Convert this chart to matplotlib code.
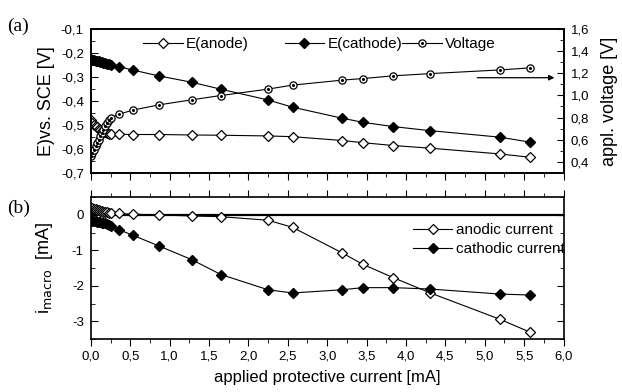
import matplotlib
matplotlib.use('Agg')
import matplotlib.pyplot as plt
from matplotlib.ticker import FuncFormatter, MultipleLocator
from matplotlib.legend_handler import HandlerTuple

plt.rcParams['font.family'] = ['Liberation Sans', 'DejaVu Sans']

# applied protective current [mA]
current = [0.0, 0.02, 0.04, 0.06, 0.08, 0.10, 0.12, 0.14, 0.16, 0.18, 0.20, 0.23, 0.26,
           0.36, 0.53, 0.87, 1.28, 1.65, 2.25, 2.56, 3.19, 3.45, 3.84, 4.31, 5.19, 5.58]

e_anode = [-0.48, -0.49, -0.50, -0.505, -0.51, -0.515, -0.52, -0.525, -0.528, -0.531, -0.534, -0.537, -0.538,
           -0.539, -0.540, -0.540, -0.542, -0.543, -0.546, -0.549, -0.565, -0.574, -0.586, -0.597, -0.621, -0.635]
e_cathode = [-0.225, -0.228, -0.230, -0.232, -0.233, -0.235, -0.237, -0.239, -0.241, -0.243, -0.245, -0.248, -0.252,
             -0.257, -0.271, -0.296, -0.322, -0.351, -0.396, -0.426, -0.472, -0.489, -0.507, -0.524, -0.551, -0.572]
voltage = [0.45, 0.48, 0.51, 0.54, 0.57, 0.60, 0.63, 0.66, 0.69, 0.72, 0.75, 0.78, 0.80,
           0.83, 0.867, 0.915, 0.96, 0.999, 1.057, 1.093, 1.138, 1.152, 1.177, 1.197, 1.23, 1.249]

i_anodic = [0.20, 0.19, 0.17, 0.16, 0.14, 0.13, 0.11, 0.10, 0.09, 0.08, 0.07, 0.06, 0.05,
            0.04, 0.02, 0.0, -0.03, -0.05, -0.15, -0.35, -1.07, -1.39, -1.77, -2.20, -2.94, -3.31]
i_cathodic = [-0.15, -0.16, -0.17, -0.18, -0.19, -0.20, -0.21, -0.22, -0.23, -0.24, -0.26, -0.28, -0.30,
              -0.42, -0.57, -0.88, -1.26, -1.68, -2.11, -2.20, -2.11, -2.05, -2.05, -2.09, -2.23, -2.26]


def comma(v, pos):
    return ('%.1f' % v).replace('.', ',')


fig = plt.figure(figsize=(6.22, 3.92), dpi=100)
ax1 = fig.add_axes([0.146, 0.559, 0.760, 0.367])
ax2 = fig.add_axes([0.146, 0.135, 0.760, 0.362])
ax1r = ax1.twinx()

lw = 0.8
dms = 5.2
open_d = dict(marker='D', markersize=dms, markerfacecolor='white', markeredgecolor='black', markeredgewidth=0.9)
fill_d = dict(marker='D', markersize=dms, markerfacecolor='black', markeredgecolor='black')

# top panel
l1, = ax1.plot(current, e_anode, color='black', lw=lw, **open_d)
l2, = ax1.plot(current, e_cathode, color='black', lw=lw, **fill_d)
l3, = ax1r.plot(current, voltage, color='black', lw=lw, marker='o', markersize=5.2,
                markerfacecolor='white', markeredgecolor='black', markeredgewidth=0.9)
l3d, = ax1r.plot(current, voltage, ls='none', marker='o', markersize=1.2, color='black')

ax1.set_xlim(0, 6)
ax1.set_ylim(-0.7, -0.1)
ax1r.set_ylim(0.3, 1.6)
ax1.yaxis.set_major_locator(MultipleLocator(0.1))
ax1.yaxis.set_minor_locator(MultipleLocator(0.05))
ax1r.set_yticks([0.4, 0.6, 0.8, 1.0, 1.2, 1.4, 1.6])
ax1r.yaxis.set_minor_locator(MultipleLocator(0.1))
ax1.yaxis.set_major_formatter(FuncFormatter(comma))
ax1r.yaxis.set_major_formatter(FuncFormatter(comma))
ax1.set_ylabel('E)vs. SCE [V]', fontsize=13, labelpad=4)
ax1r.set_ylabel('appl. voltage [V]', fontsize=13, labelpad=9)
ax1.tick_params(axis='x', labelbottom=False)

ax1.annotate('', xy=(5.92, 1.16), xytext=(4.87, 1.16), xycoords=ax1r.transData,
             arrowprops=dict(arrowstyle='-|>', color='black', lw=0.9, mutation_scale=8))

leg_kw = dict(frameon=False, fontsize=11, handlelength=2.6, handletextpad=0.2,
              borderpad=0, borderaxespad=0, loc='upper left')
leg_a = ax1.legend([l1], ['E(anode)'], bbox_to_anchor=(0.11, 0.945), **leg_kw)
ax1.add_artist(leg_a)
ax1.legend([l2, (l3, l3d)], ['E(cathode)', 'Voltage'],
           handler_map={tuple: HandlerTuple(ndivide=1, pad=0)},
           bbox_to_anchor=(0.41, 0.945), ncol=2, columnspacing=0.0, **leg_kw)

# bottom panel
ax2.axhline(0, color='black', lw=1.6)
ax2.plot(current, i_anodic, color='black', lw=lw, label='anodic current', **open_d)
ax2.plot(current, i_cathodic, color='black', lw=lw, label='cathodic current', **fill_d)
ax2.set_xlim(0, 6)
ax2.set_ylim(-3.5, 0.5)
ax2.yaxis.set_major_locator(MultipleLocator(1))
ax2.yaxis.set_minor_locator(MultipleLocator(0.5))
ax2.xaxis.set_major_locator(MultipleLocator(0.5))
ax2.xaxis.set_minor_locator(MultipleLocator(0.25))
ax2.xaxis.set_major_formatter(FuncFormatter(comma))
ax2.yaxis.set_major_formatter(FuncFormatter(lambda v, p: '%d' % v))
ax2.set_ylabel(r'i$_{\mathrm{macro}}$  [mA]', fontsize=13, labelpad=12)
ax2.set_xlabel('applied protective current [mA]', fontsize=12, labelpad=5)
ax2.legend(bbox_to_anchor=(0.681, 0.817), labelspacing=0.35, **leg_kw)

ax1.xaxis.set_major_locator(MultipleLocator(0.5))
ax1.xaxis.set_minor_locator(MultipleLocator(0.25))

for a in (ax1, ax2):
    a.tick_params(axis='x', which='both', direction='out', labelsize=9.5)
    a.tick_params(axis='x', which='major', length=5)
    a.tick_params(axis='x', which='minor', length=3)
    a.tick_params(axis='y', which='both', direction='in', right=True, labelsize=9.5, pad=5)
    a.tick_params(axis='y', which='major', length=5)
    a.tick_params(axis='y', which='minor', length=3)
ax1.tick_params(axis='y', which='both', right=False)
ax1r.tick_params(axis='y', which='both', direction='in', labelsize=9.5, pad=5)
ax1r.tick_params(axis='y', which='major', length=5)
ax1r.tick_params(axis='y', which='minor', length=3)
ax1.tick_params(axis='x', which='both', top=False)
ax2.tick_params(axis='x', which='both', top=True)

for a in (ax1, ax1r, ax2):
    for s in a.spines.values():
        s.set_linewidth(1.2)

fig.text(0.012, 0.955, '(a)', fontsize=14, family='Liberation Serif', va='top')
fig.text(0.012, 0.49, '(b)', fontsize=14, family='Liberation Serif', va='top')

fig.savefig('out.png', dpi=100)
